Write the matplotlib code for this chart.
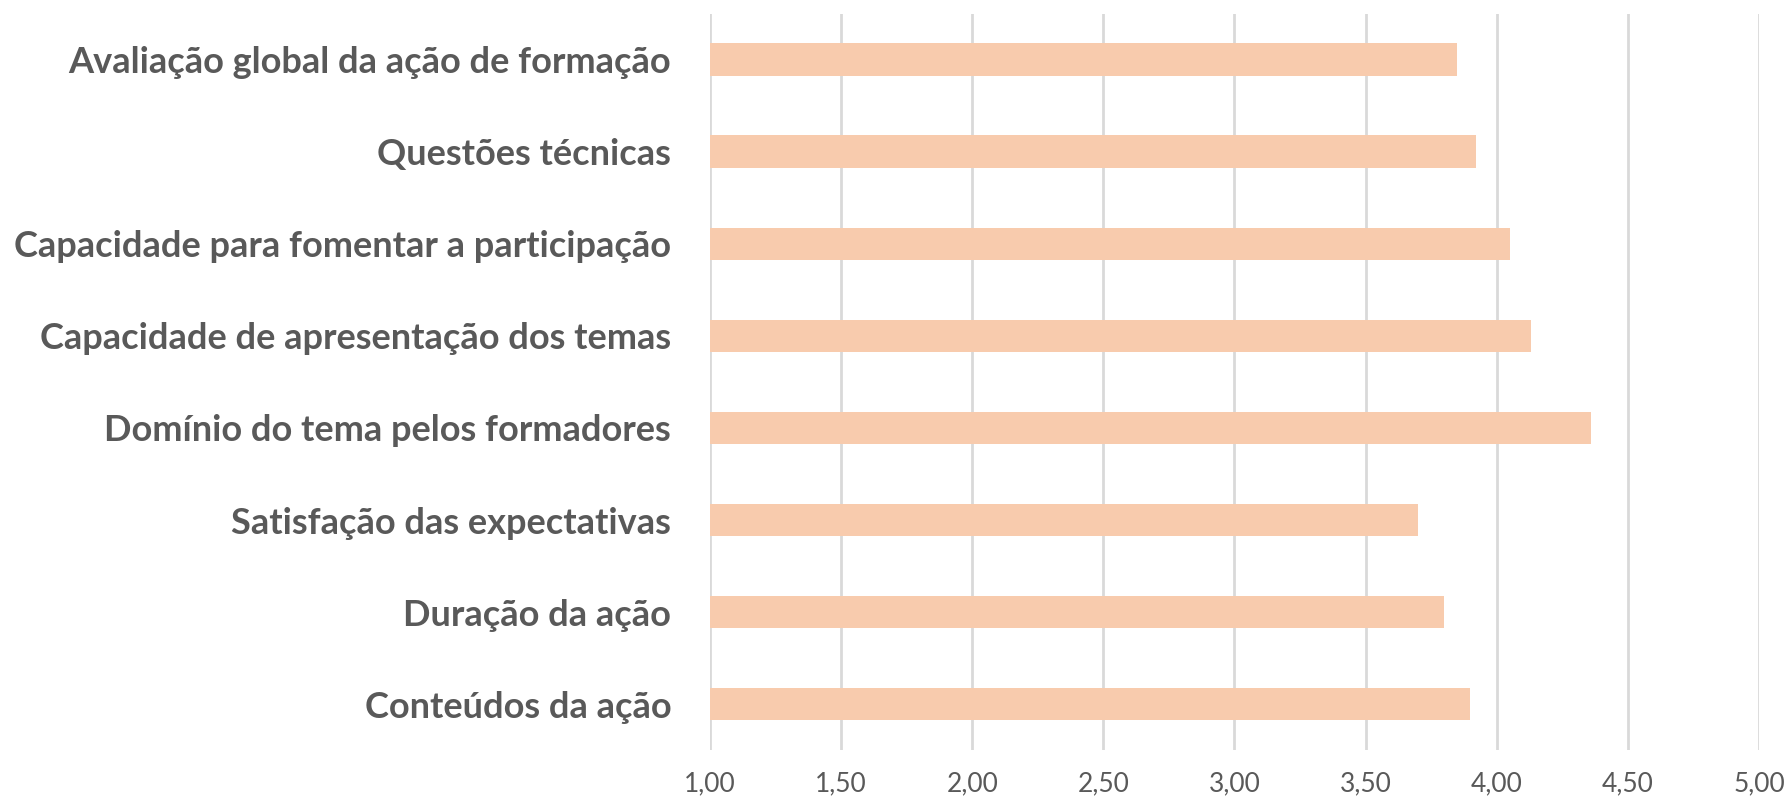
import matplotlib
matplotlib.use("Agg")
import matplotlib.pyplot as plt
import numpy as np

# dados (de baixo para cima)
categorias = [
    "Conteúdos da ação",
    "Duração da ação",
    "Satisfação das expectativas",
    "Domínio do tema pelos formadores",
    "Capacidade de apresentação dos temas",
    "Capacidade para fomentar a participação",
    "Questões técnicas",
    "Avaliação global da ação de formação",
]
valores = [3.90, 3.80, 3.70, 4.36, 4.13, 4.05, 3.92, 3.85]
ticks_x = [1.0, 1.5, 2.0, 2.5, 3.0, 3.5, 4.0, 4.5, 5.0]

cor_barra = "#F8CBAD"
cor_texto = "#595959"
cor_grelha = "#D9D9D9"

plt.rcParams['font.family'] = ['Lato', 'DejaVu Sans']

fig = plt.figure(figsize=(17.89, 8.01), dpi=100)
ax = fig.add_axes([0.3969, 0.0633, 0.5863, 0.9198])

y = np.arange(len(categorias))
# barras começam no eixo (1,00)
ax.barh(y, [v - 1.0 for v in valores], left=1.0, height=0.352, color=cor_barra, zorder=3)

ax.set_xlim(1.0, 5.0)
ax.set_ylim(-0.5, len(categorias) - 0.5)
ax.set_xticks(ticks_x)
ax.set_xticklabels([f"{t:.2f}".replace(".", ",") for t in ticks_x], fontsize=19, color=cor_texto)
ax.set_yticks(y)
ax.set_yticklabels(categorias, fontsize=26, fontweight='bold', color=cor_texto)

ax.tick_params(axis='x', length=0, pad=15)
ax.tick_params(axis='y', length=0, pad=28)
ax.xaxis.grid(True, color=cor_grelha, linewidth=2, zorder=0)
ax.set_axisbelow(True)
for s in ax.spines.values():
    s.set_visible(False)

fig.savefig("out.png", dpi=100)
